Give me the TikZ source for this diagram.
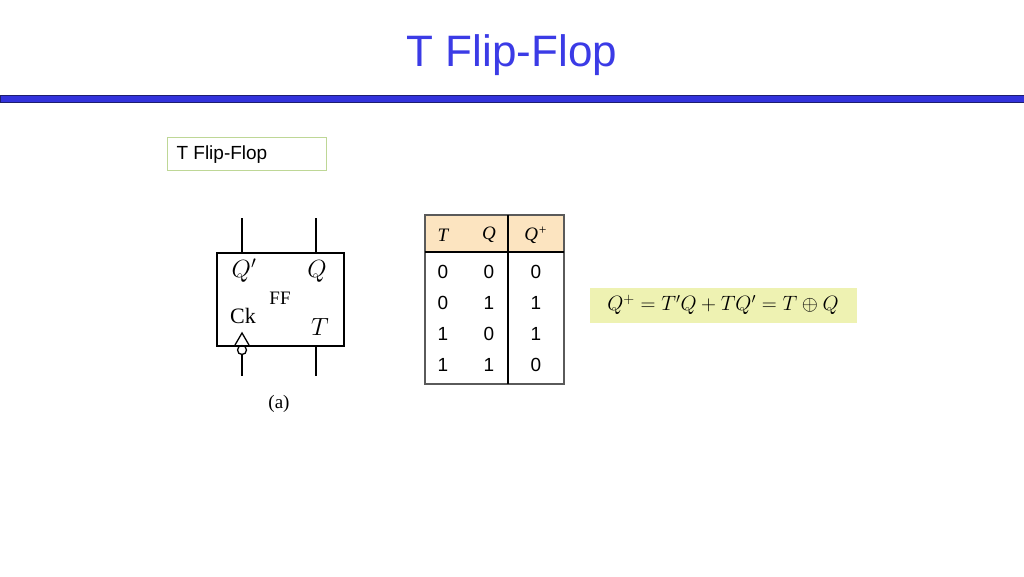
\documentclass[tikz,border=0pt]{standalone}
\usepackage{fontspec}
\setmainfont{Liberation Sans}
\newfontfamily\serif{Liberation Serif}
\begin{document}
\begin{tikzpicture}[x=1pt,y=-1pt,
  lead/.style={line width=1.6pt},
  cell/.style={font=\fontsize{19}{19}\selectfont}]
\useasboundingbox (0,0) rectangle (1024,576);
\node (title) at (512,55) {\fontsize{44}{44}\selectfont\color[HTML]{3B3BE6}T Flip-Flop};
\fill[color={rgb,255:red,50;green,50;blue,220}] (0,95) rectangle (1024,102);
\draw[color={rgb,255:red,30;green,30;blue,110},line width=1pt] (0,95) rectangle (1024,102);
\node[draw={rgb,255:red,190;green,215;blue,150},line width=1pt,minimum width=159pt,minimum height=33pt,anchor=north west,inner sep=0pt] (lbl) at (167,137) {};
\node[anchor=west,font=\fontsize{19}{19}\selectfont] at (173,155) {T Flip-Flop};
% flip-flop
\node[draw,line width=2pt,minimum width=127pt,minimum height=93pt,anchor=north west,inner sep=0pt] (ff) at (216,252) {};
\coordinate (t1) at (242,218); \coordinate (t2) at (316,218);
\coordinate (b1) at (242,376); \coordinate (b2) at (316,376);
\draw[lead] (t1) -- (t1 |- ff.north);
\draw[lead] (t2) -- (t2 |- ff.north);
\draw[lead] (t2 |- ff.south) -- (b2);
\node[draw,circle,inner sep=0pt,minimum size=9pt,line width=1.3pt] (bub) at (242,350) {};
\draw[lead] (bub.south) -- (b1);
\draw[line width=1.3pt] (235,345) -- (242,333) -- (249,345);
\node (qn) at (244,271) {\fontsize{23}{23}\selectfont$Q'$};
\node (q) at (317,271) {\fontsize{23}{23}\selectfont$Q$};
\node (ffl) at (280,298) {\serif\fontsize{19}{19}\selectfont FF};
\node (ck) at (243,316) {\serif\fontsize{22}{22}\selectfont Ck};
\node (tt) at (320,327) {\fontsize{23}{23}\selectfont$T$};
\node (a) at (279,404) {\serif\fontsize{19}{19}\selectfont (a)};
% table
\fill[color={rgb,255:red,252;green,228;blue,192}] (425,215) rectangle (564,252);
\draw[color={rgb,255:red,90;green,90;blue,90},line width=1.3pt] (425,215) rectangle (564,384);
\draw[line width=1.3pt] (425,252) -- (564,252);
\draw[line width=1.3pt] (508,215) -- (508,384);
\node[cell] (hT) at (443,235) {\serif\itshape T};
\node[cell] (hQ) at (489,235) {\serif\itshape Q};
\node[cell] (hQp) at (536,235) {\serif\itshape Q\textsuperscript{+}};
\node[cell] at (443,272) {0}; \node[cell] at (489,272) {0}; \node[cell] at (536,272) {0};
\node[cell] at (443,303) {0}; \node[cell] at (489,303) {1}; \node[cell] at (536,303) {1};
\node[cell] at (443,334) {1}; \node[cell] at (489,334) {0}; \node[cell] at (536,334) {1};
\node[cell] at (443,365) {1}; \node[cell] at (489,365) {1}; \node[cell] at (536,365) {0};
% equation
\fill[color={rgb,255:red,238;green,242;blue,178}] (590,288) rectangle (857,323);
\node (eq) at (723,305) {\fontsize{20}{20}\selectfont$Q^{+}=T'Q+TQ'=T\oplus Q$};
\end{tikzpicture}
\end{document}
